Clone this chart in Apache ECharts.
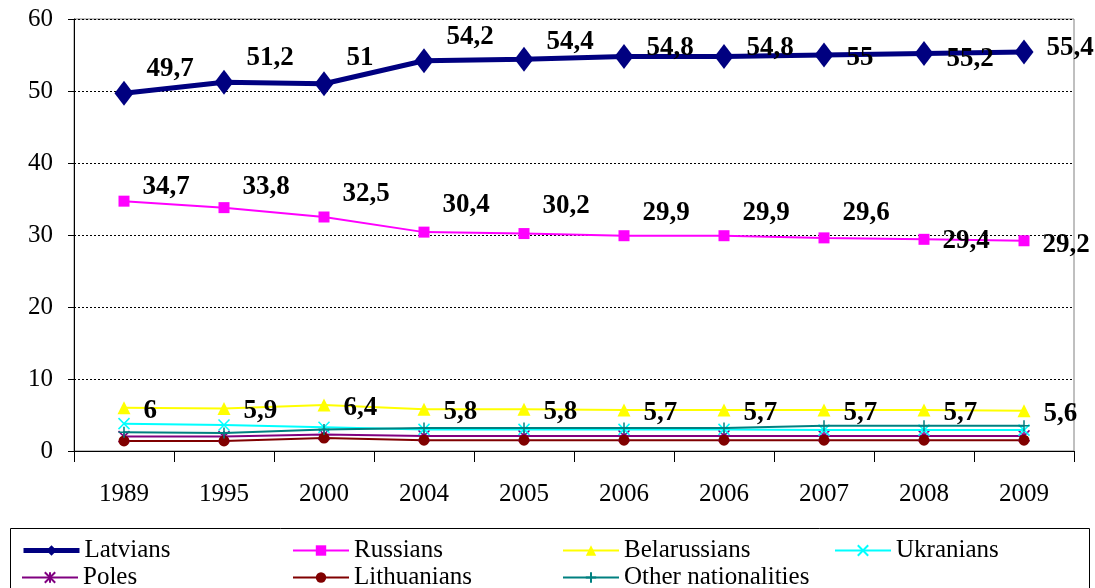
<!DOCTYPE html>
<html>
<head>
<meta charset="utf-8">
<script src="https://cdn.jsdelivr.net/npm/echarts@6/dist/echarts.min.js"></script>
<style>
  html, body { margin: 0; padding: 0; background: #fff; }
  #main { width: 1095px; height: 588px; }
</style>
</head>
<body>
<div id="main"></div>
<script>
// categories (the source repeats 2006)
const years = ['1989', '1995', '2000', '2004', '2005', '2006', '2006', '2007', '2008', '2009'];

// shares in %
const latvians = [49.7, 51.2, 51, 54.2, 54.4, 54.8, 54.8, 55, 55.2, 55.4];
const russians = [34.7, 33.8, 32.5, 30.4, 30.2, 29.9, 29.9, 29.6, 29.4, 29.2];
const belarussians = [6, 5.9, 6.4, 5.8, 5.8, 5.7, 5.7, 5.7, 5.7, 5.6];
const ukranians = [3.8, 3.6, 3.3, 3.0, 3.0, 3.0, 3.0, 2.9, 2.9, 2.9];
const poles = [2.0, 2.0, 2.3, 2.1, 2.1, 2.1, 2.1, 2.1, 2.1, 2.1];
const lithuanians = [1.4, 1.4, 1.8, 1.5, 1.5, 1.5, 1.5, 1.5, 1.5, 1.5];
const others = [2.6, 2.5, 3.0, 3.2, 3.2, 3.2, 3.2, 3.5, 3.5, 3.5];

// label nudges (vertical, px) like the hand placed excel labels
const latviansDy = [-24, -24, -26, -24, -17, -8, -8, 3, 5, -4];
const russiansDy = [-14, -21, -23, -27, -28, -23, -23, -25, 2, 4];

const serif = '"Liberation Serif", "DejaVu Serif", serif';

function fmt(v) {
    return String(v).replace('.', ',');
}

function withLabels(values, dys) {
    return values.map((v, i) => ({
        value: v,
        label: { offset: [0, dys[i]] }
    }));
}

const labelStyle = {
    show: true,
    position: 'right',
    distance: 13,
    fontFamily: serif,
    fontWeight: 'bold',
    fontSize: 27,
    color: '#000',
    formatter: (p) => fmt(p.value)
};

const xPath = 'path://M0,0L10,10M10,0L0,10';
const starPath = 'path://M0,0L10,10M10,0L0,10M5,0L5,10';
const plusPath = 'path://M5,0L5,10M0,5L10,5';

const myChart = echarts.init(document.getElementById('main'));

// one legend per entry so the columns line up like the excel key
function legendAt(name, left, top, lineWidth) {
    return {
        left: left,
        top: top,
        itemGap: 0,
        itemWidth: 56,
        itemHeight: 13,
        data: [{ name: name, lineStyle: { width: lineWidth } }],
        textStyle: { fontFamily: serif, fontSize: 25, color: '#000' }
    };
}

const option = {
    animation: false,
    backgroundColor: '#fff',
    grid: {
        left: 74, right: 21, top: 19, bottom: 137,
        show: true, borderColor: '#808080', borderWidth: 1
    },
    graphic: [{
        type: 'rect',
        shape: { x: 10.5, y: 528.5, width: 1079, height: 80 },
        style: { fill: 'none', stroke: '#000', lineWidth: 1 },
        z: -1
    }],
    legend: [
        legendAt('Latvians', 16, 533, 5),
        legendAt('Russians', 287, 533, 2),
        legendAt('Belarussians', 557, 533, 2),
        legendAt('Ukranians', 829, 533, 2),
        legendAt('Poles', 16, 560, 2),
        legendAt('Lithuanians', 287, 560, 2),
        legendAt('Other nationalities', 557, 560, 2)
    ],
    xAxis: {
        type: 'category',
        data: years,
        boundaryGap: true,
        axisLine: { lineStyle: { color: '#000', width: 1 } },
        axisTick: { show: true, length: 11, lineStyle: { color: '#000' } },
        axisLabel: { margin: 31, fontFamily: serif, fontSize: 25, color: '#000' }
    },
    yAxis: {
        type: 'value',
        min: 0, max: 60, interval: 10,
        axisLine: { show: true, lineStyle: { color: '#000', width: 1 } },
        axisTick: { show: true, length: 6, lineStyle: { color: '#000' } },
        axisLabel: { margin: 21, fontFamily: serif, fontSize: 25, color: '#000' },
        splitLine: { lineStyle: { color: '#000', type: [2, 2], width: 1 } }
    },
    series: [
        {
            name: 'Latvians', type: 'line', z: 10,
            data: withLabels(latvians, latviansDy),
            symbol: 'diamond', symbolSize: [19, 25],
            lineStyle: { color: '#000080', width: 5 },
            itemStyle: { color: '#000080' },
            label: labelStyle
        },
        {
            name: 'Russians', type: 'line', z: 9,
            data: withLabels(russians, russiansDy),
            symbol: 'rect', symbolSize: 11,
            lineStyle: { color: '#FF00FF', width: 2 },
            itemStyle: { color: '#FF00FF' },
            label: labelStyle
        },
        {
            name: 'Belarussians', type: 'line', z: 8,
            data: belarussians,
            symbol: 'triangle', symbolSize: 13,
            lineStyle: { color: '#FFFF00', width: 2 },
            itemStyle: { color: '#FFFF00' },
            label: Object.assign({}, labelStyle, { offset: [0, 3] })
        },
        {
            name: 'Ukranians', type: 'line', z: 6,
            data: ukranians,
            symbol: xPath, symbolSize: 11,
            lineStyle: { color: '#00FFFF', width: 2 },
            itemStyle: { color: '#00FFFF', borderColor: '#00FFFF', borderWidth: 1.5 }
        },
        {
            name: 'Poles', type: 'line', z: 5,
            data: poles,
            symbol: starPath, symbolSize: 11,
            lineStyle: { color: '#800080', width: 2 },
            itemStyle: { color: '#800080', borderColor: '#800080', borderWidth: 1.5 }
        },
        {
            name: 'Lithuanians', type: 'line', z: 5,
            data: lithuanians,
            symbol: 'circle', symbolSize: 11,
            lineStyle: { color: '#800000', width: 2 },
            itemStyle: { color: '#800000' }
        },
        {
            name: 'Other nationalities', type: 'line', z: 7,
            data: others,
            symbol: plusPath, symbolSize: 11,
            lineStyle: { color: '#008080', width: 2 },
            itemStyle: { color: '#008080', borderColor: '#008080', borderWidth: 1.5 }
        }
    ]
};

option && myChart.setOption(option);
</script>
</body>
</html>
